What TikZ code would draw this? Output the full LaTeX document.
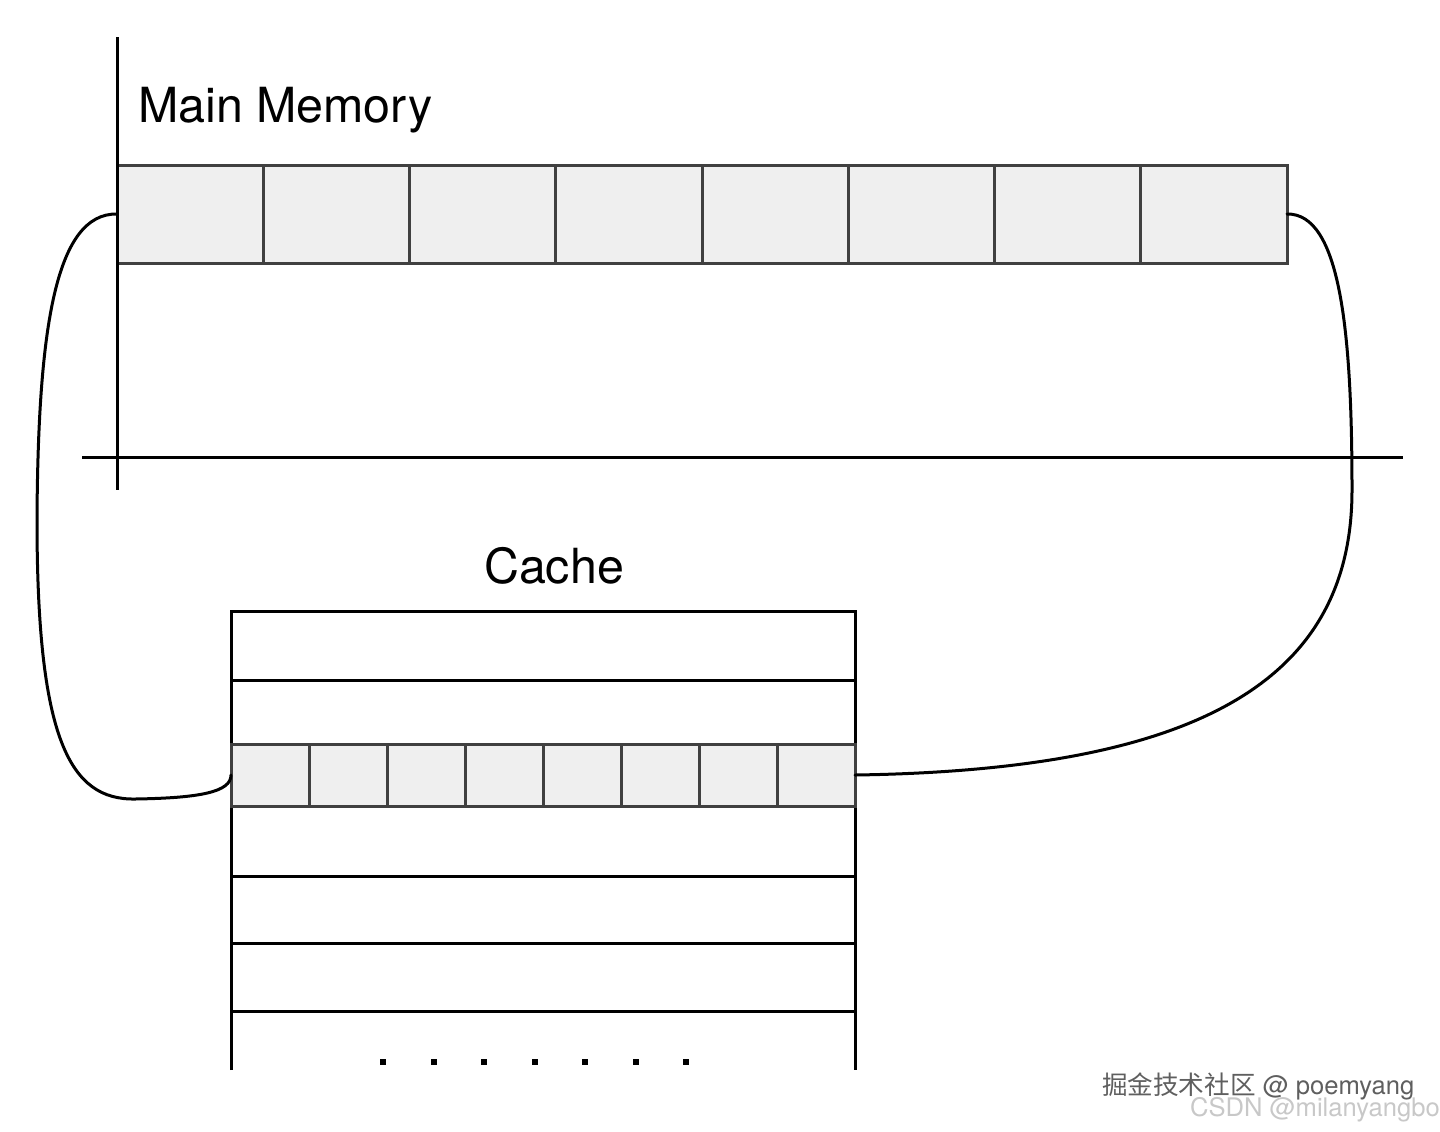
\documentclass[tikz,border=0pt]{standalone}
\usepackage{fontspec}
\setmainfont{TeX Gyre Heros}
\newfontfamily\cjkfont{Noto Sans CJK SC}
\definecolor{cellgray}{RGB}{239,239,239}
\definecolor{celledge}{RGB}{64,64,64}
\definecolor{markdark}{RGB}{95,95,95}
\definecolor{marklight}{RGB}{200,200,200}

\begin{document}
\begin{tikzpicture}[x=0.5pt,y=-0.5pt,
    memcell/.style={draw=celledge,fill=cellgray,line width=1.5pt,minimum width=73.125pt,minimum height=49pt,inner sep=0pt,outer sep=0pt},
    cachecell/.style={draw=celledge,fill=cellgray,line width=1.5pt,minimum width=39pt,minimum height=31pt,inner sep=0pt,outer sep=0pt},
    title/.style={font=\fontsize{24.2}{29}\selectfont},
    watermark/.style={anchor=base west,font=\fontsize{12.8}{15}\selectfont},
    link/.style={line width=1.5pt,line cap=round}]
	\useasboundingbox (0,0) rectangle (1440,1131);

	% main memory
	\foreach \i in {1,...,8}
		\node[memcell] (m\i) at ({117+146.25*(\i-0.5)},214) {};
	\node[title,anchor=base west] (memlabel) at (131,122) {Main Memory};

	\draw[line width=1.5pt] (117,37) -- (117,490);
	\draw[line width=1.5pt] (82,457) -- (1403,457);

	% cache
	\draw[line width=1.5pt] (231,1070) -- (231,611) -- (855,611) -- (855,1070);
	\foreach \y in {680,876,943,1011}
		\draw[line width=1.5pt] (231,\y) -- (855,\y);
	\foreach \i in {1,...,8}
		\node[cachecell] (c\i) at ({231+78*(\i-0.5)},775) {};
	\node[title,anchor=base] (cachelabel) at (554,583) {Cache};
	\foreach \i in {0,...,6}
		\fill ({380+50.5*\i},1059) rectangle ++(6,6);

	% mapping
	\draw[link] (m1.west) .. controls (55,213) and (38,330) .. (37,520)
		.. controls (37,740) and (70,800) .. (135,799)
		.. controls (200,798) and (231,792) .. (c1.west);
	\draw[link] (m8.east) .. controls (1340,213) and (1352,330) .. (1352,490)
		.. controls (1352,680) and (1200,770) .. (c8.east);

	\node[watermark,text=marklight] (csdn) at (1183,1116) {CSDN @milanyangbo};
	\node[watermark,text=markdark] (juejin) at (1095,1094) {{\cjkfont 掘金技术社区} @ poemyang};
\end{tikzpicture}
\end{document}
